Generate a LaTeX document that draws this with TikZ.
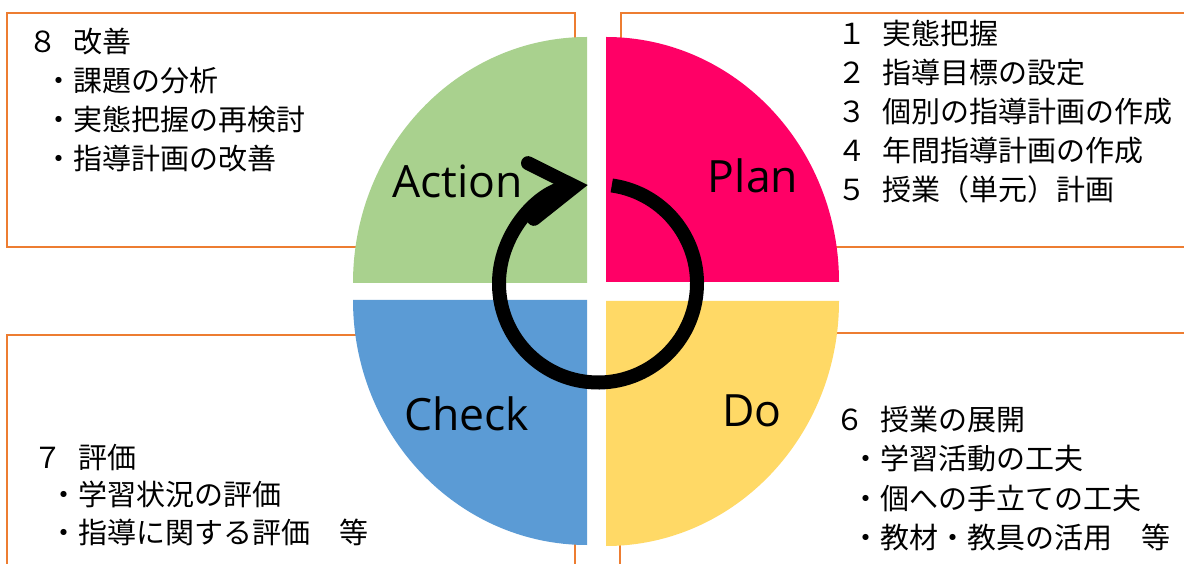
\documentclass[tikz,border=0pt]{standalone}
\usepackage{fontspec}
\setmainfont{Noto Sans CJK JP}
\newfontfamily\labfont{Open Sans}
\usetikzlibrary{arrows.meta}
\definecolor{boxorange}{HTML}{ED7D31}
\definecolor{actgreen}{HTML}{A9D18E}
\definecolor{planpink}{HTML}{FF0066}
\definecolor{doyellow}{HTML}{FFD966}
\definecolor{checkblue}{HTML}{5B9BD5}
\newcommand{\numhead}[2]{\makebox[1.53em][l]{#1}#2}
\begin{document}
\begin{tikzpicture}[x=1pt,y=1pt,
  infobox/.style={draw=boxorange, line width=2.5pt, fill=white},
  jtext/.style={anchor=base west, inner sep=0pt, font=\fontsize{29}{39}\selectfont},
  phase/.style={anchor=base, inner sep=0pt, font=\labfont\fontsize{44.5}{52}\selectfont},
  cyclearrow/.style={line width=14pt, -{Straight Barb[length=44pt,width=56pt,line width=14pt,line cap=round,line join=miter]}},
]
\useasboundingbox (0,0) rectangle (1184,563);
\fill[white] (0,0) rectangle (1184,563);
% boxes
\draw[infobox] (7,550) rectangle (575,316);
\draw[infobox] (621,550) rectangle (1195,316);
\draw[infobox] (7,228) rectangle (575,-10);
\draw[infobox] (620,230) rectangle (1195,-10);
% quadrants
\fill[actgreen] (587,280) -- ++(-234,0) arc[start angle=180, end angle=90, x radius=234, y radius=246] -- cycle;
\fill[planpink] (606,281) -- ++(233,0) arc[start angle=0, end angle=90, x radius=233, y radius=245] -- cycle;
\fill[doyellow] (606,262) -- ++(233,0) arc[start angle=0, end angle=-90, x radius=233, y radius=245] -- cycle;
\fill[checkblue] (587,263) -- ++(-234,0) arc[start angle=180, end angle=270, x radius=234, y radius=245] -- cycle;
% phase labels
\node[phase] (action) at (457.5,365) {Action};
\node[phase] (plan) at (753,370) {Plan};
\node[phase] (check) at (466.5,133) {Check};
\node[phase] (do) at (752,137) {Do};
% cycle arrow
\coordinate (cyc) at (598,279.5);
\draw[cyclearrow] (cyc) ++(82:99) arc[start angle=82, end angle=-264, radius=99];
% top-left text
\node[jtext] (a0) at (28.6,510) {\numhead{８}{改善}};
\node[jtext] (a1) at (44,471) {・課題の分析};
\node[jtext] (a2) at (44,432) {・実態把握の再検討};
\node[jtext] (a3) at (44,393) {・指導計画の改善};
% top-right text
\node[jtext] (p1) at (837.6,518) {\numhead{１}{実態把握}};
\node[jtext] (p2) at (837.6,479) {\numhead{２}{指導目標の設定}};
\node[jtext] (p3) at (837.6,440) {\numhead{３}{個別の指導計画の作成}};
\node[jtext] (p4) at (837.6,401) {\numhead{４}{年間指導計画の作成}};
\node[jtext] (p5) at (837.6,362) {\numhead{５}{授業（単元）計画}};
% bottom-left text
\node[jtext] (c0) at (33.6,95) {\numhead{７}{評価}};
\node[jtext] (c1) at (49,57.5) {・学習状況の評価};
\node[jtext] (c2) at (49,20) {・指導に関する評価　等};
% bottom-right text
\node[jtext] (d0) at (835.6,133) {\numhead{６}{授業の展開}};
\node[jtext] (d1) at (851,93.5) {・学習活動の工夫};
\node[jtext] (d2) at (851,54) {・個への手立ての工夫};
\node[jtext] (d3) at (851,14.5) {・教材・教具の活用　等};
\end{tikzpicture}
\end{document}
